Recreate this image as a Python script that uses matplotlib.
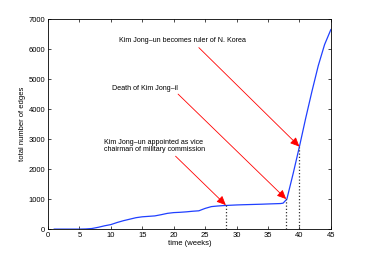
import matplotlib
matplotlib.use("Agg")
import matplotlib.pyplot as plt

plt.rcParams['font.family'] = ['Liberation Sans', 'DejaVu Sans']

# weekly edge counts
weeks = [1, 2, 3, 4, 5, 6, 7, 8, 9, 10, 11, 12, 13, 14, 15, 16, 17, 18, 19, 20,
         21, 22, 23, 24, 25, 26, 27, 28, 29, 30, 31, 32, 33, 34, 35, 36, 37,
         37.4, 38, 39, 40, 41, 42, 43, 44, 45]
edges = [0, 0, 0, 0, 0, 5, 20, 60, 110, 150, 220, 280, 330, 380, 410, 425, 440,
         480, 525, 550, 560, 575, 595, 610, 690, 750, 770, 785, 795, 805, 812,
         818, 824, 830, 838, 845, 852, 865, 1000, 1850, 2750, 3700, 4600, 5450,
         6150, 6650]

# events: (label, text x, text y, arrow tail x, tail y, event week, edges at event)
events = [
    ("Kim Jong\u2013un becomes ruler of N. Korea", 11.3, 6270, 24.0, 6050, 40.0, 2750),
    ("Death of Kim Jong\u2013il", 10.2, 4670, 20.7, 4500, 37.9, 1000),
    ("Kim Jong\u2013un appointed as vice\nchairman of military commission", 8.9, 2770, 20.3, 2430, 28.3, 800),
]

fig = plt.figure(figsize=(3.66, 2.58), dpi=100)
ax = fig.add_axes([0.131, 0.112, 0.773, 0.814])

ax.plot(weeks, edges, color='#2040ff', lw=0.9)

for label, tx, ty, ax_, ay, ex, ey in events:
    ax.text(tx, ty, label, fontsize=5.1, va='center', ha='left', linespacing=1.1)
    ax.annotate("", xy=(ex, ey), xytext=(ax_, ay),
                arrowprops=dict(arrowstyle='-|>,head_length=0.55,head_width=0.25',
                                color='red', lw=0.6, shrinkA=0, shrinkB=0,
                                mutation_scale=10))
    ax.plot([ex, ex], [0, ey], color='#333333', ls=(0, (1, 1.6)), lw=0.9)

ax.set_xlim(0, 45)
ax.set_ylim(0, 7000)
ax.set_xticks(range(0, 46, 5))
ax.set_yticks(range(0, 7001, 1000))
ax.tick_params(direction='in', length=2.5, width=0.5, labelsize=5.5,
               top=True, right=True, pad=2)
for s in ax.spines.values():
    s.set_linewidth(0.6)
ax.set_xlabel("time (weeks)", fontsize=5.5, labelpad=1)
ax.set_ylabel("total number of edges", fontsize=5.5, labelpad=2)

fig.savefig("out.png", dpi=100)
